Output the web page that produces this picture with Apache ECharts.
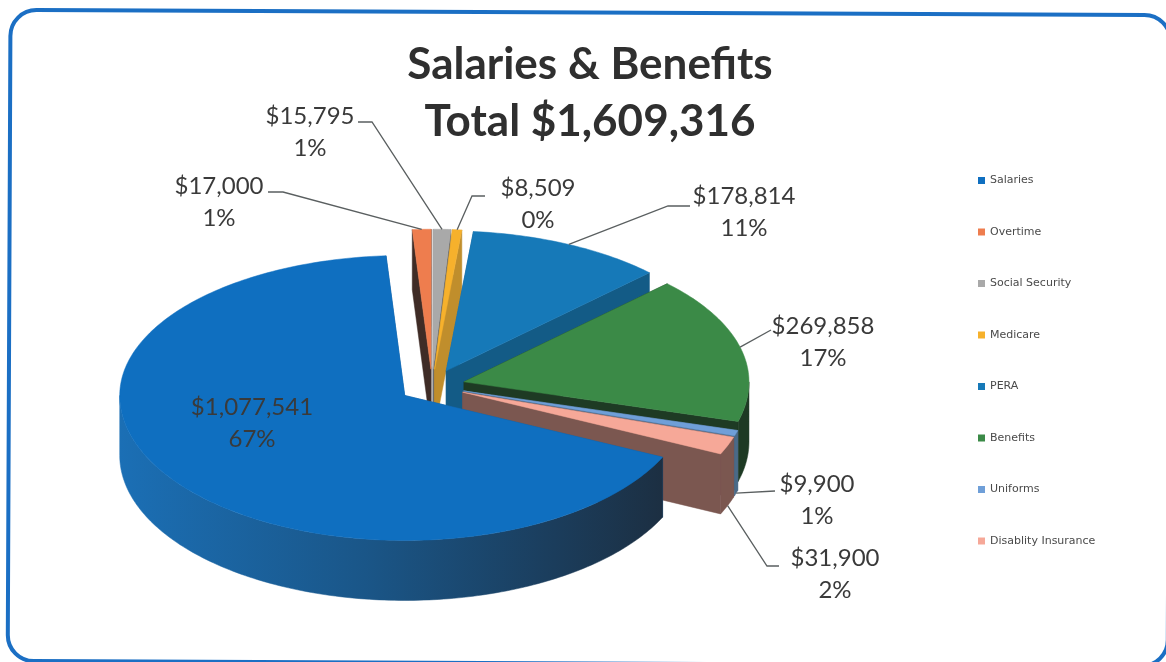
<!DOCTYPE html>
<html>
<head>
<meta charset="utf-8">
<style>html,body{margin:0;padding:0;background:#fff}#chart{width:1166px;height:662px}</style>
<script src="https://cdn.jsdelivr.net/npm/echarts@6/dist/echarts.min.js"></script>
</head>
<body>
<div id="chart"></div>
<script>
const categories = ['Salaries', 'Overtime', 'Social Security', 'Medicare', 'PERA', 'Benefits', 'Uniforms', 'Disablity Insurance'];
const amounts = [1077541, 17000, 15795, 8509, 178814, 269858, 9900, 31900];
const percents = ['67%', '1%', '1%', '0%', '11%', '17%', '1%', '2%'];

const topColors = ['#0f6fc0', '#ee7d4e', '#a9a9a9', '#f6b12c', '#1679b8', '#3b8a47', '#6f9fd8', '#f6a898'];
const wallColors = ['#1a5c94', '#3f2c26', '#6b6b6b', '#c08e2c', '#135b86', '#1e3a24', '#4a6a88', '#7b5750'];

// back slices first, Salaries sits in front of everything
const drawOrder = [1, 2, 3, 4, 5, 6, 7, 0];

// projected pie: ellipse radii (the far half is a bit flatter), thickness, how far slices are pulled out
const cx = 432, cy = 386, rx = 285, ryFront = 145, ryBack = 140, depth = 60, explode = 33;
const startAngle = 115.2;

// label centre, leader elbow and leader end, null where there is no leader
const labelAt = [[252, 423], [219, 202], [310, 132], [538, 204], [744, 212], [823, 342], [817, 500], [835, 574]];
const elbowAt = [null, [283, 192], [372, 122], [472, 196], [668, 206], null, null, [767, 566]];
const leaderEnd = [null, [268, 192], [358, 122], [485, 196], [690, 206], [771, 330], [775, 491], [779, 566]];
const leaderOnWall = [false, false, false, false, false, false, true, true];

const total = amounts.reduce((a, b) => a + b, 0);
const spans = amounts.map(v => v / total * 360);
const starts = spans.map((s, i) => startAngle + spans.slice(0, i).reduce((a, b) => a + b, 0));

const rad = d => d * Math.PI / 180;

const apexOf = i => {
    const mid = rad(starts[i] + spans[i] / 2);
    return [cx + explode * Math.sin(mid), cy - explode * (ryFront / rx) * Math.cos(mid)];
};

const rimPoint = (i, angle, down) => {
    const a = apexOf(i);
    const c = Math.cos(rad(angle));
    return [a[0] + rx * Math.sin(rad(angle)), a[1] - (c > 0 ? ryBack : ryFront) * c + down];
};

const arcPoints = (i, from, to, down) => {
    const pts = [];
    const steps = Math.max(2, Math.ceil(Math.abs(to - from)));
    for (let s = 0; s <= steps; s++) {
        pts.push(rimPoint(i, from + (to - from) * s / steps, down));
    }
    return pts;
};

const poly = (points, fill) => ({ type: 'polygon', shape: { points: points }, style: { fill: fill, stroke: fill, lineWidth: 0.5 } });

const sideFill = i => {
    if (i === 0) {
        return new echarts.graphic.LinearGradient(0, 0, 1, 0, [
            { offset: 0, color: '#1b6fb5' },
            { offset: 0.45, color: '#1a5688' },
            { offset: 0.8, color: '#1b3d5c' },
            { offset: 1, color: '#1c2f42' }
        ]);
    }
    return wallColors[i];
};

const textStyle = (text, x, y) => ({
    type: 'text',
    style: { text: text, x: x, y: y, align: 'center', verticalAlign: 'middle', fill: '#3a3a3a', font: '24px Lato' }
});

const renderSlice = i => () => {
    const from = starts[i], to = from + spans[i];
    const apex = apexOf(i);
    const apexDown = [apex[0], apex[1] + depth];
    const children = [];

    // cut faces
    [from, to].forEach(angle => {
        children.push(poly([apex, rimPoint(i, angle, 0), rimPoint(i, angle, depth), apexDown], wallColors[i]));
    });

    // outer wall, only the part that faces the viewer
    for (let k = -360; k <= 360; k += 360) {
        const lo = Math.max(from, 90 + k), hi = Math.min(to, 270 + k);
        if (hi > lo) {
            const upper = arcPoints(i, lo, hi, 0);
            const lower = arcPoints(i, hi, lo, depth);
            children.push(poly(upper.concat(lower), sideFill(i)));
        }
    }

    // top face
    children.push(poly([apex].concat(arcPoints(i, from, to, 0)), topColors[i]));

    // leader and label
    if (leaderEnd[i]) {
        const anchor = rimPoint(i, from + spans[i] / 2, leaderOnWall[i] ? depth : 0);
        const pts = elbowAt[i] ? [anchor, elbowAt[i], leaderEnd[i]] : [anchor, leaderEnd[i]];
        children.push({ type: 'polyline', shape: { points: pts }, style: { stroke: '#5a5f60', lineWidth: 1.3, fill: null } });
    }
    const pos = labelAt[i];
    children.push(textStyle('$' + amounts[i].toLocaleString('en-US'), pos[0], pos[1] - 16));
    children.push(textStyle(percents[i], pos[0], pos[1] + 16));

    return { type: 'group', children: children };
};

const myChart = echarts.init(document.getElementById('chart'));

const option = {
    animation: false,
    backgroundColor: '#ffffff',
    title: {
        text: 'Salaries & Benefits\nTotal $1,609,316',
        left: 585,
        top: 31,
        textAlign: 'center',
        textStyle: { fontFamily: 'Lato', fontSize: 44, fontWeight: 'bold', color: '#2f2f2f', lineHeight: 57 }
    },
    legend: {
        orient: 'vertical',
        left: 973,
        top: 170,
        data: categories,
        selectedMode: false,
        icon: 'rect',
        itemWidth: 7,
        itemHeight: 7,
        itemGap: 40.5,
        textStyle: { fontFamily: 'DejaVu Sans', fontSize: 11, color: '#4a4a4a' }
    },
    graphic: [{
        type: 'rect',
        silent: true,
        z: -1,
        x: 10.5,
        y: 10,
        rotation: -0.0043,
        shape: { x: 0, y: 0, width: 1160, height: 651, r: 26 },
        style: { fill: '#ffffff', stroke: '#1b6fc4', lineWidth: 4 }
    }],
    series: drawOrder.map((i, order) => ({
        type: 'custom',
        name: categories[i],
        coordinateSystem: 'none',
        z: 2 + order,
        silent: true,
        itemStyle: { color: topColors[i] },
        data: [[amounts[i]]],
        renderItem: renderSlice(i)
    }))
};

myChart.setOption(option);
</script>
</body>
</html>
